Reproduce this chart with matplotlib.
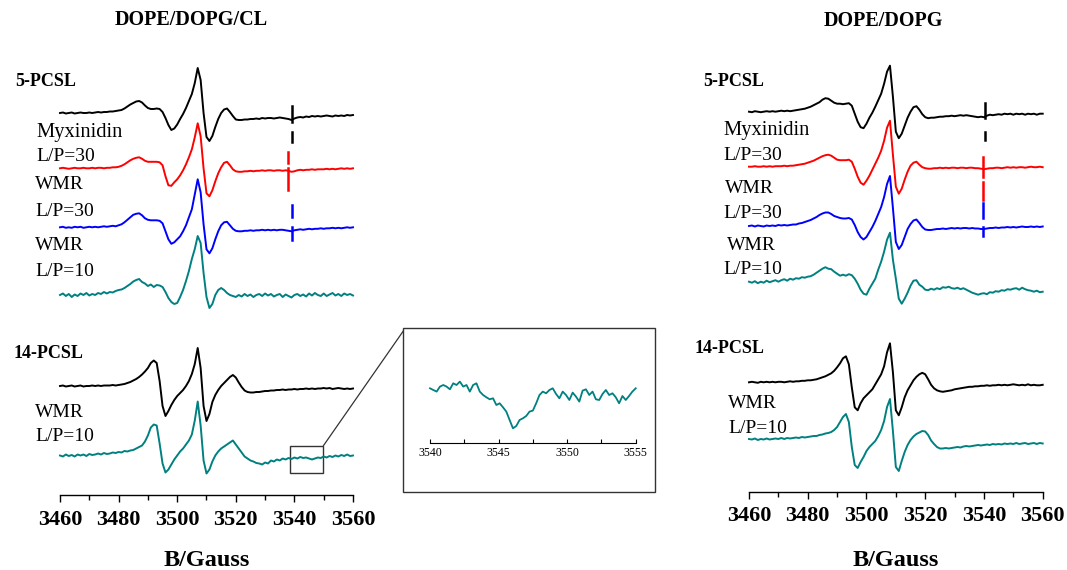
import numpy as np
import matplotlib.pyplot as plt
from matplotlib.patches import Rectangle, ConnectionPatch

plt.rcParams['font.family'] = ['Liberation Serif', 'DejaVu Serif']

W, H = 1067, 570

# magnetic field axis, 1 G steps
field = np.arange(3460, 3561)

# spectra: height above each trace's baseline (screen px)
# DOPE/DOPG/CL, 5-PCSL
left_5_ctrl = [0, 0.5, -0.5, 0, 0.5, -0.5, 0, 0.5, 0, 0,
               0.5, 0, 0.5, 1, 0.5, 1, 1, 1.5, 1.5, 2,
               2.5, 3, 4.5, 6.5, 8.5, 10, 11.5, 12, 10.5, 7.5,
               5, 4, 4, 4.5, 4, 1, -5, -12, -17, -15.5,
               -11.5, -6, -1, 5, 12, 19, 30, 45, 33, 0,
               -24, -28, -23, -14, -6, 0, 3.5, 4.5, 1, -3,
               -6.5, -7, -7, -6.5, -6.5, -6, -6, -5.5, -6, -5,
               -5.5, -5, -5, -5.5, -5, -4.5, -5, -5.5, -6, -7,
               -5.5, -4.5, -4, -4.5, -3.5, -4, -3, -3.5, -3, -3.5,
               -3, -2.5, -3, -3.5, -2.5, -3, -2.5, -3, -2, -2.5,
               -2]
left_5_myx30 = [0, 0.5, 0, -0.5, 0, 0.5, 0, 0, 0.5, 0,
                0, 0.5, 0, 0.5, 0.5, 0, 0.5, 0.5, 1, 1,
                1.5, 2.5, 4, 6, 8, 9.5, 10.5, 11, 9.5, 7.5,
                6.5, 6.5, 6.5, 6.5, 6, 3, -8, -17, -17.5, -14,
                -11, -7, -2, 4, 11, 19, 31, 45, 32, 0,
                -25, -28, -22, -13, -5, 1, 5.5, 6.5, 3, -1,
                -3, -3.5, -3.5, -3, -3, -2.5, -3, -2.5, -2.5, -2,
                -2.5, -2, -2, -2.5, -2, -2, -2.5, -2, -2.5, -3.5,
                -3, -2, -1.5, -2, -1.5, -1.5, -1, -1.5, -1, -1,
                -1, -0.5, -1, -0.5, -1, -0.5, 0, -0.5, 0, -0.5,
                0]
left_5_wmr30 = [0, 0.5, -0.5, 0, -0.5, 0.5, 0, 0.5, -0.5, 0,
                0.5, 0, 0.5, 0, 0.5, 1, 0.5, 1, 1.5, 1,
                2, 3, 5, 7.5, 10, 12.5, 13.5, 14, 12, 9,
                7.5, 7, 7, 7, 6.5, 4, -4, -12, -16.5, -15,
                -12, -9, -4, 2, 10, 18, 33, 48, 35, 3,
                -22, -26, -21, -12, -4, 2, 5, 5.5, 2, -1.5,
                -3.5, -4, -4, -3.5, -3.5, -3, -3.5, -3, -3, -2.5,
                -3, -2.5, -3, -2.5, -3, -2.5, -2.5, -3, -3.5, -4,
                -3, -2.5, -2, -2.5, -2, -1.5, -2, -1.5, -1.5, -1,
                -1.5, -1, -1, -0.5, -1, -0.5, -1, -0.5, 0, -0.5,
                0]
left_5_wmr10 = [0, 1.5, -1, 1, -2, 0.5, -1, 1.5, 0, 2,
                -0.5, 1, 0, 2, 1, 3, 1.5, 3, 2.5, 4,
                5, 5.5, 7, 9, 11, 13.5, 15, 16, 13, 11.5,
                9, 10.5, 8, 10, 9.5, 8, 3, -3, -7, -9,
                -8, -2, 5, 14, 24, 36, 46, 59, 52, 22,
                -2, -13, -9, 0, 5, 7, 5, 2, 0, -1,
                -2, 0, -1.5, 1, -1, 0.5, -2, 0, 1, -1,
                1.5, -0.5, 1, -1.5, 0, 1, -2, 0.5, -1, -2.5,
                0, 1, -1, 0.5, -1.5, 1.5, -0.5, 2, 0, -1,
                1.5, -1, 0.5, 2, -0.5, 1, -1, 1.5, 0, 1,
                -0.5]
# DOPE/DOPG/CL, 14-PCSL
left_14_ctrl = [0, 0.5, -0.5, 0, 0.5, -0.5, 0, 0.5, -0.5, 0,
                0, 0.5, 0, 0.5, 0, 0.5, 0.5, 0.5, 1, 0.5,
                1, 1.5, 2, 3, 4, 5.5, 7, 9, 11.5, 14.5,
                18, 23, 25.5, 23, 5, -20, -30, -25, -19, -14,
                -10, -7, -4, 0, 5, 12, 22, 38, 18, -20,
                -35, -28, -16, -9, -4, 0, 3, 6, 9, 11,
                8.5, 3.5, -1, -4.5, -6, -6.5, -6.5, -6, -6, -5.5,
                -5, -5, -4.5, -4.5, -4, -4, -3.5, -4, -3.5, -3.5,
                -3, -3.5, -3, -3, -2.5, -3, -2.5, -3, -2.5, -2.5,
                -2, -2.5, -2, -3, -2.5, -2, -2.5, -3, -2.5, -3,
                -2.5]
left_14_wmr10 = [0, -1, 1, -0.5, 0.5, -1, 1, 0, 1, -0.5,
                 1.5, 0.5, 1, 2, 1, 2.5, 1.5, 2, 3, 2.5,
                 3.5, 3, 4.5, 4, 5, 5.5, 7, 8.5, 10, 14,
                 20, 28, 31, 30, 12, -8, -17, -14, -9, -4,
                 0, 4, 7, 11, 15, 21, 35, 54, 30, -5,
                 -18, -14, -6, 0, 4, 7, 9, 11, 13, 15,
                 11, 7, 3, -1, -3, -5, -6, -7.5, -8, -9,
                 -7, -8, -5, -6, -4, -5, -3, -4, -2.5, -3.5,
                 -2, -3, -1.5, -2.5, -2, -3, -4, -3, -2, -2.5,
                 -1, -2, -0.5, -1.5, 0, -1, 0.5, -0.5, 1, -0.5,
                 0]

# DOPE/DOPG, 5-PCSL
right_5_ctrl = [0, -0.5, 0.5, 0, -0.5, 0, 0.5, 0, 0.5, 0,
                0.5, 1, 0.5, 1, 0.5, 1, 1.5, 2, 2.5, 3,
                4, 5, 6.5, 8, 9.5, 12, 13.5, 13, 11, 9,
                8, 8, 7.5, 8, 8.5, 6, -2, -10, -15.5, -16.5,
                -12, -6, -1, 5, 11.5, 18, 28, 40, 46, 15,
                -20, -26.5, -22, -14, -6, 0, 4.5, 5.5, 2, -2.5,
                -5.5, -6.5, -6, -6, -5.5, -5, -5, -4.5, -4.5, -4,
                -4.5, -4, -3.5, -4, -3.5, -4, -4.5, -5, -5.5, -5,
                -5.5, -4, -3, -3.5, -3, -2.5, -3, -2, -2.5, -2,
                -3, -2, -2.5, -2, -3, -2, -2.5, -2, -3, -2,
                -2]
right_5_myx30 = [0, 0, 0.5, 0, 0, 0.5, 0, 0.5, 0, 0.5,
                 0.5, 0.5, 1, 0.5, 1, 1, 1.5, 2, 2.5, 3,
                 4, 5, 6, 7.5, 9, 10.5, 11.5, 12, 11, 9,
                 7, 6.5, 6.5, 6.5, 7, 5, -2, -10, -16, -18,
                 -14, -9, -3, 3, 9, 16, 26, 39, 46, 12,
                 -20, -27, -22, -13, -5, 1, 4, 5, 2, -0.5,
                 -1.5, -2, -2, -1.5, -1.5, -1, -1.5, -1, -1.5, -1,
                 -1, -1.5, -1, -1, -1.5, -1, -1, -1.5, -1.5, -2,
                 -2.5, -2, -1.5, -1.5, -1, -1, -1.5, -1, -0.5, -1,
                 -0.5, -1, -0.5, -0.5, -1, -0.5, 0, -0.5, -0.5, 0,
                 -0.5]
right_5_wmr30 = [0, 0.5, -0.5, 0.5, 0, -0.5, 0.5, 0, 0.5, 0,
                 1, 0.5, 1, 0.5, 1, 1.5, 1.5, 2.5, 3, 4,
                 5, 6, 7.5, 9, 11, 12.5, 13.5, 13.5, 12, 10,
                 9, 8, 7.5, 7.5, 8, 6.5, 1, -6, -11, -13.5,
                 -11, -6, -1, 5, 12, 19, 29, 42, 50, 18,
                 -16, -23, -19, -11, -3, 2, 5.5, 6.5, 3, -1,
                 -3.5, -4, -4, -3.5, -3, -3, -2.5, -3, -2.5, -2,
                 -2.5, -2, -2.5, -2, -2, -2.5, -2, -2.5, -2.5, -3,
                 -3, -2.5, -2, -2, -1.5, -2, -1.5, -1.5, -1, -1.5,
                 -1, -1.5, -1, -0.5, -1, -1, -0.5, -1, -0.5, -1,
                 -0.5]
right_5_wmr10 = [0, -1, 0.5, -1.5, 0, -1, 1, -0.5, 0.5, 1.5,
                 0, 1.5, 2.5, 1, 3, 2, 3.5, 3, 4.5, 4,
                 5, 5.5, 7, 9, 11, 13, 14.5, 13, 12.5, 10,
                 8, 6, 7, 6, 7.5, 6.5, 3, -2, -8, -12,
                 -13, -7, -2, 3, 12, 20, 30, 42, 49, 22,
                 3, -17, -22, -17, -11, -4, 1, 1.5, -3, -5,
                 -8, -8.5, -7, -8, -6.5, -7.5, -5.5, -6, -5, -6.5,
                 -7, -6, -7.5, -6.5, -8, -9.5, -11, -12, -13, -12,
                 -11.5, -12.5, -10.5, -11, -9.5, -10, -8.5, -9, -7.5, -8,
                 -7, -6.5, -8, -6, -7.5, -8.5, -9, -10, -9, -10.5,
                 -10]
# DOPE/DOPG, 14-PCSL
right_14_ctrl = [0, 0.5, 0, -0.5, 0.5, 0, 0.5, 0, 0.5, 0,
                 0.5, 0.5, 0, 0.5, 1, 0.5, 1, 1, 1.5, 1.5,
                 2, 2, 2.5, 3, 4, 5, 6, 7.5, 9, 11.5,
                 15, 19, 24, 26, 18, -5, -25, -28, -21, -16,
                 -13, -10, -7, -2, 3, 8, 16, 30, 39, 10,
                 -28, -33, -25, -15, -8, -3, 2, 5.5, 8, 9.5,
                 8, 3, -2.5, -6, -8, -9, -9.5, -9, -8.5, -8,
                 -7, -6.5, -6, -5.5, -5, -4.5, -4.5, -4, -4, -3.5,
                 -3.5, -3, -3.5, -3, -3, -2.5, -3, -2.5, -3, -2.5,
                 -2, -2.5, -3, -2.5, -3, -2, -3, -2.5, -3, -3,
                 -2.5]
right_14_wmr10 = [0, -0.5, 0.5, -1, 0, -0.5, 0.5, -0.5, 0, 0.5,
                  0, 1, 0, 1, 0.5, 1, 1.5, 1, 2, 1.5,
                  2, 2.5, 3, 3, 4, 4.5, 5.5, 6, 7, 9,
                  12, 17, 22, 25, 17, -8, -26, -29, -23, -18,
                  -12, -8, -5, -2, 3, 9, 18, 32, 40, 8,
                  -28, -32, -22, -13, -6, -1, 2.5, 5, 6.5, 8,
                  7.5, 4, -1.5, -5, -8, -9.5, -9.5, -9, -9.5, -9,
                  -8.5, -8, -8.5, -7.5, -7, -7.5, -7, -6.5, -6, -6.5,
                  -6, -5.5, -6, -5, -5.5, -5, -5.5, -4.5, -5, -4.5,
                  -5, -4, -5, -4.5, -4, -5, -4.5, -4, -5, -4,
                  -4.5]

# zoomed 3540-3555 G region of the DOPE/DOPG/CL 14-PCSL + WMR trace
inset_trace = [0, -1.7, -3.3, 1.7, 3.3, 1.7, -1, 5, 3.3, 6.7,
               1.7, 3.3, -3.3, 3.3, 5, -3.3, -6.7, -9, -11, -10,
               -16.7, -15, -19, -23.3, -31.7, -40, -37.7, -31.7, -30, -27.7,
               -23.3, -22.3, -15, -6.7, -3.3, -5, -1.7, 0, -5.7, -10,
               -3.3, -6.7, -11.7, -4.3, -8.3, -13.3, -2.3, -1, -6.7, -3.3,
               -11, -11.7, -5.7, -1.7, -6.7, -5, -9, -15, -7.7, -11.7,
               -7.7, -3.3, 0]
inset_field = np.linspace(3540, 3555, len(inset_trace))

titles = ['DOPE/DOPG/CL', 'DOPE/DOPG']
teal = '#008080'


def fx(px):
    return px / W


def fy(py):
    return 1 - py / H


fig = plt.figure(figsize=(W / 100, H / 100), dpi=100)


def make_panel(x0, x1, spine_row):
    ax = fig.add_axes([fx(x0), fy(spine_row), fx(x1) - fx(x0), spine_row / H])
    ax.set_xlim(3460, 3560)
    ax.set_ylim(0, spine_row)
    for s in ['left', 'right', 'top']:
        ax.spines[s].set_visible(False)
    ax.spines['bottom'].set_linewidth(1)
    ax.set_yticks([])
    ax.set_xticks(np.arange(3460, 3561, 20))
    ax.set_xticks(np.arange(3470, 3560, 20), minor=True)
    ax.tick_params(axis='x', which='major', direction='out', length=5, width=1,
                   labelsize=16, pad=5.5)
    ax.tick_params(axis='x', which='minor', direction='out', length=3.5, width=1)
    for lab in ax.get_xticklabels():
        lab.set_fontweight('bold')
    ax.set_xlabel('B/Gauss', fontsize=17.5, fontweight='bold')
    ax.xaxis.set_label_coords(0.5, -(560 - spine_row) / spine_row)
    ax.xaxis.label.set_va('center')
    ax.patch.set_alpha(0)
    return ax


def trace(ax, vals, base_row, color):
    spine_row = ax.get_ylim()[1]
    ax.plot(field, np.array(vals) + (spine_row - base_row), color=color,
            lw=1.4, clip_on=False)


def guides(ax, segs):
    spine_row = ax.get_ylim()[1]
    for x, top, bot, c in segs:
        ax.plot([x, x], [spine_row - top, spine_row - bot], color=c, lw=1.8,
                clip_on=False)


def label(x, y, s, bold=False, size=14):
    fig.text(fx(x), fy(y), s, ha='left', va='center', fontsize=size,
             fontweight='bold' if bold else 'normal')


# ---- left panel: DOPE/DOPG/CL
axL = make_panel(60, 353, 495)
trace(axL, left_5_ctrl, 113, 'black')
trace(axL, left_5_myx30, 168.3, 'red')
trace(axL, left_5_wmr30, 227.3, 'blue')
trace(axL, left_5_wmr10, 295, teal)
trace(axL, left_14_ctrl, 386, 'black')
trace(axL, left_14_wmr10, 455.5, teal)
guides(axL, [(3539.2, 106, 122, 'black'), (3539.2, 132, 142, 'black'),
             (3537.8, 152, 163, 'red'), (3537.8, 168, 190, 'red'),
             (3539.2, 205, 217, 'blue'), (3539.2, 227, 240, 'blue')])

fig.text(fx(190.8), fy(20), titles[0], ha='center', va='center',
         fontsize=14.5, fontweight='bold')
label(15, 81.7, '5-PCSL', bold=True, size=13)
label(36, 132.7, 'Myxinidin', size=14.8)
label(36, 156.7, 'L/P=30')
label(35, 184.3, 'WMR')
label(35, 211, 'L/P=30')
label(35, 246, 'WMR')
label(35, 271.7, 'L/P=10')
label(13.3, 353.3, '14-PCSL', bold=True, size=13)
label(35, 412.7, 'WMR')
label(35, 436.7, 'L/P=10')

# ---- right panel: DOPE/DOPG
axR = make_panel(749, 1042.7, 491.7)
trace(axR, right_5_ctrl, 111.7, 'black')
trace(axR, right_5_myx30, 166.7, 'red')
trace(axR, right_5_wmr30, 226, 'blue')
trace(axR, right_5_wmr10, 281.7, teal)
trace(axR, right_14_ctrl, 382.3, 'black')
trace(axR, right_14_wmr10, 439, teal)
guides(axR, [(3540.2, 103, 118, 'black'), (3540.2, 132, 140, 'black'),
             (3539.8, 157, 177, 'red'), (3539.8, 182, 200, 'red'),
             (3539.8, 203, 218, 'blue'), (3539.8, 227, 236, 'blue')])

fig.text(fx(883.3), fy(20.7), titles[1], ha='center', va='center',
         fontsize=14.5, fontweight='bold')
label(703.3, 81, '5-PCSL', bold=True, size=13)
label(723.3, 130.7, 'Myxinidin', size=14.8)
label(723.3, 156, 'L/P=30')
label(725, 188.3, 'WMR')
label(723.3, 213.3, 'L/P=30')
label(727, 245, 'WMR')
label(723.3, 270, 'L/P=10')
label(695, 348.3, '14-PCSL', bold=True, size=13)
label(728.3, 403.3, 'WMR')
label(728.3, 428.3, 'L/P=10')

# ---- zoom box + inset
zoom_x = (3538.5, 3549.9)
axL.add_patch(Rectangle((zoom_x[0], 495 - 472.7), zoom_x[1] - zoom_x[0], 27,
                        fill=False, lw=1, ec='#333333', clip_on=False))
fig.add_artist(Rectangle((fx(403.3), fy(491.7)), fx(655) - fx(403.3),
                         (491.7 - 328.3) / H, transform=fig.transFigure,
                         fill=False, lw=1, ec='#333333'))
fig.add_artist(ConnectionPatch(xyA=(zoom_x[1], 495 - 445.7), coordsA='data', axesA=axL,
                               xyB=(fx(403.3), fy(331)), coordsB='figure fraction',
                               color='#333333', lw=0.9))

ins = fig.add_axes([fx(430), fy(443.3), fx(635.7) - fx(430), 113.3 / H])
ins.set_xlim(3540, 3555)
ins.set_ylim(0, 113.3)
for s in ['left', 'right', 'top']:
    ins.spines[s].set_visible(False)
ins.set_yticks([])
ins.set_xticks([3540, 3545, 3550, 3555])
ins.set_xticks([3542.5, 3547.5, 3552.5], minor=True)
ins.tick_params(axis='x', which='both', direction='in', length=3, width=0.8,
                labelsize=8.5, pad=3)
ins.patch.set_alpha(0)
ins.plot(inset_field, np.array(inset_trace) + 55, color=teal, lw=1.3, clip_on=False)

fig.savefig('out.png', dpi=100)
